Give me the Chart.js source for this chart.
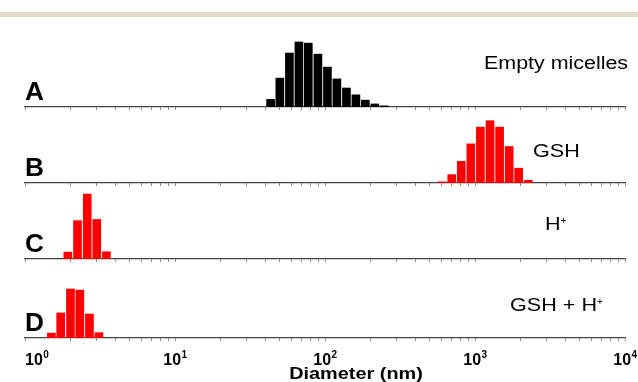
<!DOCTYPE html>
<html>
<head>
<meta charset="utf-8">
<script src="https://cdn.jsdelivr.net/npm/chart.js@4"></script>
<style>
  body { margin: 0; background: #fff; }
  #wrap { position: relative; width: 638px; height: 382px; overflow: hidden; background: #fff; }
  #band { position: absolute; left: 0; top: 12px; width: 638px; height: 5px; background: #e0dccb; }
  canvas { position: absolute; left: 0; }
</style>
</head>
<body>
<div id="wrap">
  <div id="band"></div>
  <canvas id="cA" width="638" height="80" style="top:31px"></canvas>
  <canvas id="cB" width="638" height="80" style="top:107px"></canvas>
  <canvas id="cC" width="638" height="80" style="top:183px"></canvas>
  <canvas id="cD" width="638" height="120" style="top:262px"></canvas>
</div>
<script>
// diameters (nm) = bin centres, values = intensity (%)
const sizesA = [43.4, 50.0, 57.9, 67.0, 77.4, 89.7, 103.8, 120.0, 139.0, 160.7, 185.8, 214.8, 248.3];
const valuesA = [2.0, 7.6, 14.2, 17.1, 16.8, 13.9, 10.5, 7.4, 5.0, 3.2, 1.8, 0.8, 0.3];

const sizesB = [604, 700, 810, 938, 1086, 1259, 1459, 1690, 1954, 2265];
const valuesB = [0.3, 2.2, 5.7, 10.3, 14.7, 16.4, 14.7, 9.6, 3.9, 0.7];

const sizesC = [1.93, 2.24, 2.60, 3.01, 3.49];
const valuesC = [1.8, 10.1, 17.1, 10.4, 1.9];

const sizesD = [1.50, 1.73, 2.01, 2.32, 2.69, 3.11];
const valuesD = [1.3, 6.6, 12.9, 12.6, 6.3, 1.4];

const tickValues = [1, 2, 3, 4, 5, 6, 7, 8, 9,
  10, 20, 30, 40, 50, 60, 70, 80, 90,
  100, 200, 300, 400, 500, 600, 700, 800, 900,
  1000, 2000, 3000, 4000, 5000, 6000, 7000, 8000, 9000, 10000];
const majorTicks = [1, 10, 100, 1000, 10000];
const exponents = ['0', '1', '2', '3', '4'];

const FONT = '"Liberation Sans", Arial, sans-serif';

// text is a bit wider than the font in the source image, so stretch it
function stretchText(ctx, text, x, y, font, sx, align) {
  ctx.save();
  ctx.font = font;
  ctx.translate(x, y);
  ctx.scale(sx, 1);
  ctx.textAlign = align || 'left';
  ctx.textBaseline = 'alphabetic';
  ctx.fillStyle = '#000';
  ctx.fillText(text, 0, 0);
  const w = ctx.measureText(text).width * sx;
  ctx.restore();
  return w;
}

function supText(ctx, text, sup, x, y, sx) {
  const w = stretchText(ctx, text, x, y, '18px ' + FONT, sx);
  stretchText(ctx, sup, x + w, y - 6, '10px ' + FONT, 1);
}

function makePanel(id, sizes, values, color, letter, drawLabel, bottom) {
  const textPlugin = {
    id: 'panelText',
    afterDraw(chart) {
      const ctx = chart.ctx;
      const base = chart.chartArea.bottom;
      stretchText(ctx, letter, 25, base - 7, 'bold 25px ' + FONT, 1.05);
      drawLabel(ctx, base);
      if (bottom) {
        const sc = chart.scales.x;
        majorTicks.forEach((v, i) => {
          const px = sc.getPixelForValue(v);
          ctx.save();
          ctx.font = 'bold 16px ' + FONT;
          const w1 = ctx.measureText('10').width;
          ctx.font = 'bold 10px ' + FONT;
          const w2 = ctx.measureText(exponents[i]).width;
          let left = px - (w1 + w2) / 2;
          if (left < chart.chartArea.left) left = chart.chartArea.left;
          ctx.fillStyle = '#000';
          ctx.textBaseline = 'alphabetic';
          ctx.font = 'bold 16px ' + FONT;
          ctx.fillText('10', left, base + 27);
          ctx.font = 'bold 10px ' + FONT;
          ctx.fillText(exponents[i], left + w1 + 0.5, base + 20);
          ctx.restore();
        });
        stretchText(ctx, 'Diameter (nm)', 356, base + 41, 'bold 17px ' + FONT, 1.17, 'center');
      }
    }
  };

  return new Chart(document.getElementById(id), {
    type: 'bar',
    data: {
      datasets: [{
        data: sizes.map((x, i) => ({ x: x, y: values[i] })),
        backgroundColor: color,
        borderWidth: 0,
        barThickness: 8
      }]
    },
    options: {
      responsive: false,
      animation: false,
      layout: { padding: { left: 25, right: 13, top: 0, bottom: 0 } },
      plugins: { legend: { display: false }, tooltip: { enabled: false } },
      scales: {
        x: {
          type: 'logarithmic',
          min: 1,
          max: 10000,
          offset: false,
          afterBuildTicks: s => { s.ticks = tickValues.map(v => ({ value: v })); },
          afterFit: s => { s.height = bottom ? 44 : 4; },
          ticks: { display: false, autoSkip: false },
          grid: { display: true, offset: false, drawOnChartArea: false, drawTicks: true, tickLength: 3, color: '#888', lineWidth: 1 },
          border: { display: true, color: '#444', width: 1.3 }
        },
        y: { display: false, min: 0, max: 20 }
      }
    },
    plugins: [textPlugin]
  });
}

makePanel('cA', sizesA, valuesA, '#000000', 'A', (ctx, base) => {
  stretchText(ctx, 'Empty micelles', 484, base - 38.5, '18px ' + FONT, 1.19);
}, false);

makePanel('cB', sizesB, valuesB, '#ff0000', 'B', (ctx, base) => {
  stretchText(ctx, 'GSH', 533, base - 26, '18px ' + FONT, 1.2);
}, false);

makePanel('cC', sizesC, valuesC, '#ff0000', 'C', (ctx, base) => {
  supText(ctx, 'H', '+', 545, base - 29, 1.2);
}, false);

makePanel('cD', sizesD, valuesD, '#ff0000', 'D', (ctx, base) => {
  supText(ctx, 'GSH + H', '+', 510, base - 27, 1.2);
}, true);
</script>
</body>
</html>
